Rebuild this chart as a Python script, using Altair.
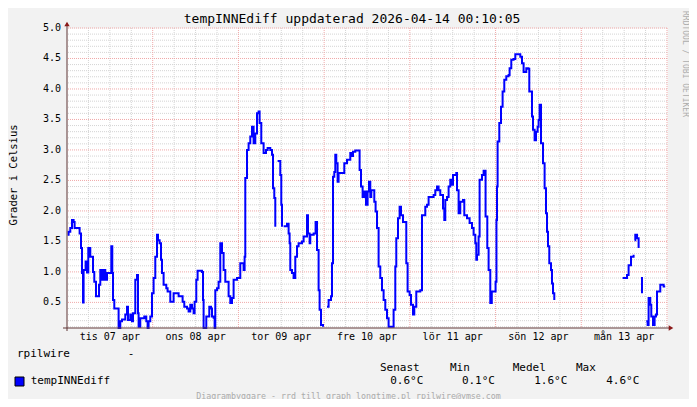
import altair as alt
import pandas as pd

# ---------------- data (hours since tis 07 apr 00:00, temperature diff in °C) -------------
hours = [
    0.17, 0.45, 0.92, 1.4, 1.85, 2.13, 3.25, 3.53, 3.92, 4.2, 4.48, 4.65, 5.21, 5.6, 5.96, 6.52, 7.0, 7.28, 7.64, 8.12,
    8.57, 8.96, 9.32, 9.69, 10.25, 10.72, 11.2, 11.93, 12.4, 12.68, 12.88, 13.24, 14.17,
    14.45, 14.92, 15.4, 16.32, 16.8, 17.08, 17.72, 18.2, 18.48, 18.84, 19.12, 19.6, 19.88, 20.05, 20.52, 21.28, 21.64, 22.2, 22.57, 22.85,
    23.32, 23.8, 24.25, 24.72, 25.2, 25.48, 25.93, 26.32, 26.6, 27.05, 27.8, 28.17, 28.92, 29.85, 30.8, 31.25, 31.92, 32.37, 32.84, 33.6,
    34.05, 34.52, 35.0, 35.45, 35.73, 36.2, 36.57, 37.32, 37.8, 38.08, 38.25, 38.72, 39.0, 39.37, 39.84, 40.32, 40.6, 41.05, 41.33, 41.52,
    42.0, 42.45, 42.92, 43.4, 43.85, 44.32, 44.8, 45.25, 45.72, 46.2, 46.65, 47.6, 48.52, 49.0, 49.45, 49.73, 49.92, 50.4, 50.85, 51.32,
    51.8, 52.25, 52.72, 53.2, 53.65, 53.93, 54.4, 55.05, 55.72, 56.17, 56.92, 57.4, 57.68, 58.04, 58.32,
    None,
    58.97, 59.53, 59.72, 60.0, 60.2,
    None,
    60.65, 61.6, 62.05, 62.33, 62.52, 63.0, 63.45, 63.92, 64.4, 64.85, 65.8, 66.25, 66.72, 67.2, 67.48, 67.93, 68.12, 69.05, 69.61, 70.0,
    70.45, 70.73, 71.12, 71.68,
    None,
    72.8, 73.25, 73.92, 74.2, 74.48, 74.84, 75.12, 75.4, 75.77, 76.05, 77.0, 77.64, 78.4, 79.32, 79.8, 80.08, 80.72, 81.37, 81.93, 82.32,
    82.77, 83.33, 83.72, 84.17, 84.56, 84.92, 85.2, 85.68, 86.04, 86.41, 86.8, 87.25, 87.72, 88.2, 88.65, 89.12, 89.6, 90.05, 91.0, 91.45,
    91.92, 92.2, 92.68, 93.13, 93.52, 94.08, 94.72, 95.0, 95.37, 95.93, 96.32, 96.88, 97.24, 97.8, 98.45, 98.92, 99.4, 99.85, 100.32, 100.8,
    101.25, 102.2, 102.65, 103.12, 103.6, 104.05, 104.52, 105.0, 105.28, 105.64, 105.92, 106.4, 106.85, 107.32, 107.8, 108.08, 108.53, 109.0, 109.2, 109.65,
    110.12, 110.88, 111.24, 112.0, 112.73, 113.4, 113.85, 114.32, 114.6, 114.8, 115.25, 115.53, 116.2, 116.65, 117.2, 117.68, 118.05, 118.52, 118.94, 119.64,
    120.0, 120.25, 120.4, 120.57, 121.04, 121.52, 121.97, 122.44, 123.0, 123.65, 123.93, 124.4, 125.05, 125.52, 126.45, 126.92, 127.4, 127.85, 128.32, 128.6,
    129.16, 129.44, 130.0, 130.2, 130.48, 130.93, 131.32, 131.77, 132.05, 132.33, 132.66, 132.72, 133.28, 133.73, 134.12, 134.4, 134.68, 135.04, 135.52, 135.8,
    136.08, 136.44,
    None,
    155.57, 156.8, 157.25, 157.92, 158.65,
    None,
    158.93, 159.12, 159.6, 160.05,
    None,
    160.72, 161.0,
    None,
    162.2, 162.57, 162.85, 163.32, 163.6, 164.08, 164.53, 164.92, 165.2, 166.12, 167.05, 167.5,
]

temps = [
    1.61, 1.66, 1.72, 1.85, 1.82, 1.72, 1.72, 1.63, 1.39, 0.98, 0.50, 1.03, 1.17, 0.99, 1.39, 1.25, 1.25, 1.0, 0.84, 0.60,
    0.60, 0.79, 1.03, 0.87, 1.03, 0.87, 0.98, 0.98, 1.42, 0.98, 0.54, 0.40, 0.40,
    0.08, 0.19, 0.22, 0.30, 0.43, 0.21, 0.30, 0.19, 0.32, 0.32, 0.87, 0.95, 0.32, 0.10, 0.24, 0.24, 0.27, 0.19, 0.08, 0.19,
    0.27, 0.65, 0.90, 1.25, 1.61, 1.52, 1.47, 1.20, 0.98, 0.79, 0.73, 0.68, 0.51, 0.65, 0.65, 0.60, 0.60, 0.51, 0.43, 0.40,
    0.35, 0.46, 0.40, 0.32, 0.51, 0.87, 1.02, 1.02, 1.0, 0.54, 0.08, 0.08, 0.27, 0.27, 0.43, 0.40, 0.27, 0.25, 0.08, 0.70,
    0.73, 0.84, 1.47, 1.31, 1.03, 0.84, 0.84, 0.60, 0.49, 0.57, 0.87, 0.90, 1.14, 1.14, 1.03, 1.25, 2.54, 3.0, 3.11, 3.22,
    3.38, 3.11, 3.27, 3.60, 3.63, 3.44, 3.11, 2.95, 3.0, 3.03, 3.0, 2.92, 2.37, 2.21, 1.74,
    None,
    2.82, 2.82, 2.59, 2.10, 1.74,
    None,
    1.75, 1.79, 1.63, 1.47, 1.03, 0.98, 0.90, 1.25, 1.42, 1.47, 1.50, 1.58, 1.58, 1.93, 1.63, 1.47, 1.61, 1.63, 1.82, 1.36,
    0.70, 0.38, 0.13, 0.10,
    None,
    0.43, 0.54, 0.60, 1.14, 2.56, 2.64, 2.92, 2.78, 2.48, 2.62, 2.62, 2.78, 2.84, 2.95, 2.90, 2.97, 2.99, 2.99, 2.67, 2.40,
    2.23, 2.32, 2.10, 2.32, 2.48, 2.23, 2.34, 2.34, 2.15, 1.99, 1.72, 1.09, 0.90, 0.70, 0.54, 0.38, 0.24, 0.10, 0.10, 0.38,
    1.09, 1.55, 1.88, 2.07, 1.93, 1.82, 1.82, 1.14, 0.68, 0.62, 0.46, 0.30, 0.43, 0.68, 0.68, 0.70, 1.93, 1.93, 2.07, 2.10,
    2.23, 2.23, 2.26, 2.34, 2.40, 2.34, 2.26, 2.26, 2.04, 1.85, 2.18, 2.23, 2.40, 2.51, 2.43, 2.59, 2.59, 2.62, 2.34, 1.96,
    2.15, 2.18, 1.93, 1.88, 1.80, 1.72, 1.61, 1.47, 1.20, 1.28, 1.58, 2.51, 2.59, 2.66, 1.91, 1.39, 1.03, 0.49, 0.68, 0.68,
    0.84, 1.85, 2.40, 3.14, 3.44, 3.71, 3.96, 4.15, 4.21, 4.23, 4.34, 4.48, 4.49, 4.57, 4.57, 4.53, 4.42, 4.28, 4.28, 4.34,
    4.33, 3.96, 3.96, 3.55, 3.33, 3.16, 3.30, 3.38, 3.49, 3.74, 3.74, 3.11, 2.78, 2.37, 1.96, 1.66, 1.42, 1.14, 1.03, 0.81,
    0.65, 0.54,
    None,
    0.90, 0.95, 1.11, 1.25, 1.28,
    None,
    1.52, 1.61, 1.55, 1.39,
    None,
    0.90, 0.65,
    None,
    0.19, 0.13, 0.57, 0.46, 0.27, 0.13, 0.27, 0.30, 0.68, 0.79, 0.76, 0.76,
]

day_labels = ["tis 07 apr", "ons 08 apr", "tor 09 apr", "fre 10 apr", "lör 11 apr", "sön 12 apr", "mån 13 apr"]
y_ticks = [0.5, 1.0, 1.5, 2.0, 2.5, 3.0, 3.5, 4.0, 4.5, 5.0]
stat_names = ["Senast", "Min", "Medel", "Max"]
stat_values = ["0.6°C", "0.1°C", "1.6°C", "4.6°C"]
title_text = "tempINNEdiff uppdaterad 2026-04-14 00:10:05"
y_title = "Grader i Celsius"
source_name = "rpilwire"
series_name = "tempINNEdiff"
footer_text = "Diagrambyggare - rrd_till_graph_longtime.pl rpilwire@ymse.com"
watermark = "RRDTOOL / TOBI OETIKER"

assert len(hours) == len(temps)

# ---------------- build tables ----------------
rows = []
seg = 0
for h, v in zip(hours, temps):
    if h is None:
        seg += 1
        continue
    rows.append({"h": h, "v": v, "seg": seg})
df = pd.DataFrame(rows)

x_major = [24 * i for i in range(1, 8)]
x_minor = [6 * i for i in range(1, 28) if i % 4 != 0]
y_major = y_ticks
y_minor = [round(0.1 * i, 1) for i in range(1, 50) if i % 5 != 0]
label_hours = [12 + 24 * i for i in range(len(day_labels))]

xlab_df = pd.DataFrame({"h": label_hours, "t": day_labels})
ylab_df = pd.DataFrame({"v": y_ticks, "t": [f"{v:.1f}" for v in y_ticks]})

FONT = "DejaVu Sans Mono"
W, H = 600, 300
xscale = alt.Scale(domain=[0, 168], nice=False, zero=False)
yscale = alt.Scale(domain=[0.08, 5.0], nice=False, zero=False)

MINOR = "#D4D4D4"
MAJOR = "#F0A8A8"
AXIS = "#5E3434"
ARROW = "#8B1A1A"


def vrules(vals, color):
    return alt.Chart(pd.DataFrame({"h": vals})).mark_rule(color=color, strokeWidth=1, strokeDash=[1, 1]).encode(
        x=alt.X("h:Q", scale=xscale, axis=None))


def hrules(vals, color):
    return alt.Chart(pd.DataFrame({"v": vals})).mark_rule(color=color, strokeWidth=1, strokeDash=[1, 1]).encode(
        y=alt.Y("v:Q", scale=yscale, axis=None))


one = pd.DataFrame({"k": [0]})


def label(text, x, y, size=11, align="left", color="#000000", angle=0):
    return alt.Chart(one).mark_text(text=text, align=align, baseline="middle", font=FONT,
                                    fontSize=size, color=color, angle=angle).encode(
        x=alt.value(x), y=alt.value(y))


layers = [
    vrules(x_minor, MINOR), hrules(y_minor, MINOR),
    vrules(x_major, MAJOR), hrules(y_major, MAJOR),
    alt.Chart(df).mark_line(color="#0000FF", strokeWidth=2, interpolate="step-after").encode(
        x=alt.X("h:Q", scale=xscale, axis=None),
        y=alt.Y("v:Q", scale=yscale, axis=None),
        detail="seg:N"),
    # tick labels placed through the scales
    alt.Chart(xlab_df).mark_text(font=FONT, fontSize=10, color="#000000", baseline="middle", align="center").encode(
        x=alt.X("h:Q", scale=xscale, axis=None), y=alt.value(309), text="t:N"),
    alt.Chart(ylab_df).mark_text(font=FONT, fontSize=10, color="#000000", baseline="middle", align="right").encode(
        y=alt.Y("v:Q", scale=yscale, axis=None), x=alt.value(-6), text="t:N"),
]

# axes with arrows
layers.append(alt.Chart(one).mark_rule(color=AXIS, strokeWidth=1).encode(
    x=alt.value(0), y=alt.value(-5), y2=alt.value(303)))
layers.append(alt.Chart(one).mark_rule(color=AXIS, strokeWidth=1).encode(
    x=alt.value(-4), x2=alt.value(604), y=alt.value(300)))
layers.append(alt.Chart(one).mark_point(shape="triangle-up", filled=True, size=28, color=ARROW, opacity=1).encode(
    x=alt.value(0), y=alt.value(-4)))
layers.append(alt.Chart(one).mark_point(shape="triangle-right", filled=True, size=28, color=ARROW, opacity=1).encode(
    x=alt.value(604), y=alt.value(300)))

# texts
layers.append(label(title_text, 285, -9, size=13, align="center"))
layers.append(label(y_title, -53, 147, size=10.5, align="center", angle=270))
layers.append(label(watermark, 618, 36, size=8, align="center", color="#ADADAD", angle=90))
layers.append(label(source_name, -50, 326))
layers.append(label("-", 64, 326, align="center"))
for name, xl in zip(stat_names, [313, 383, 445.7, 509]):
    layers.append(label(name, xl, 340))
for val, xr in zip(stat_values, [356.3, 428, 500.3, 572.3]):
    layers.append(label(val, xr, 353, align="right"))
layers.append(alt.Chart(one).mark_rect(fill="#0000FF", stroke="#000000", strokeWidth=1).encode(
    x=alt.value(-52), x2=alt.value(-43), y=alt.value(349), y2=alt.value(358)))
layers.append(label(series_name, -36.3, 353))
layers.append(label(footer_text, 281.5, 368.5, size=8.3, align="center", color="#ABABAB"))

chart = alt.layer(*layers).properties(
    width=W, height=H, background="#F2F2F2",
    autosize=alt.AutoSizeParams(type="none"),
    padding={"left": 59, "top": 20, "right": 22, "bottom": 71},
).configure_view(fill="#FFFFFF", stroke="transparent")

chart.save("out.html", embed_options={"renderer": "svg", "actions": False})
